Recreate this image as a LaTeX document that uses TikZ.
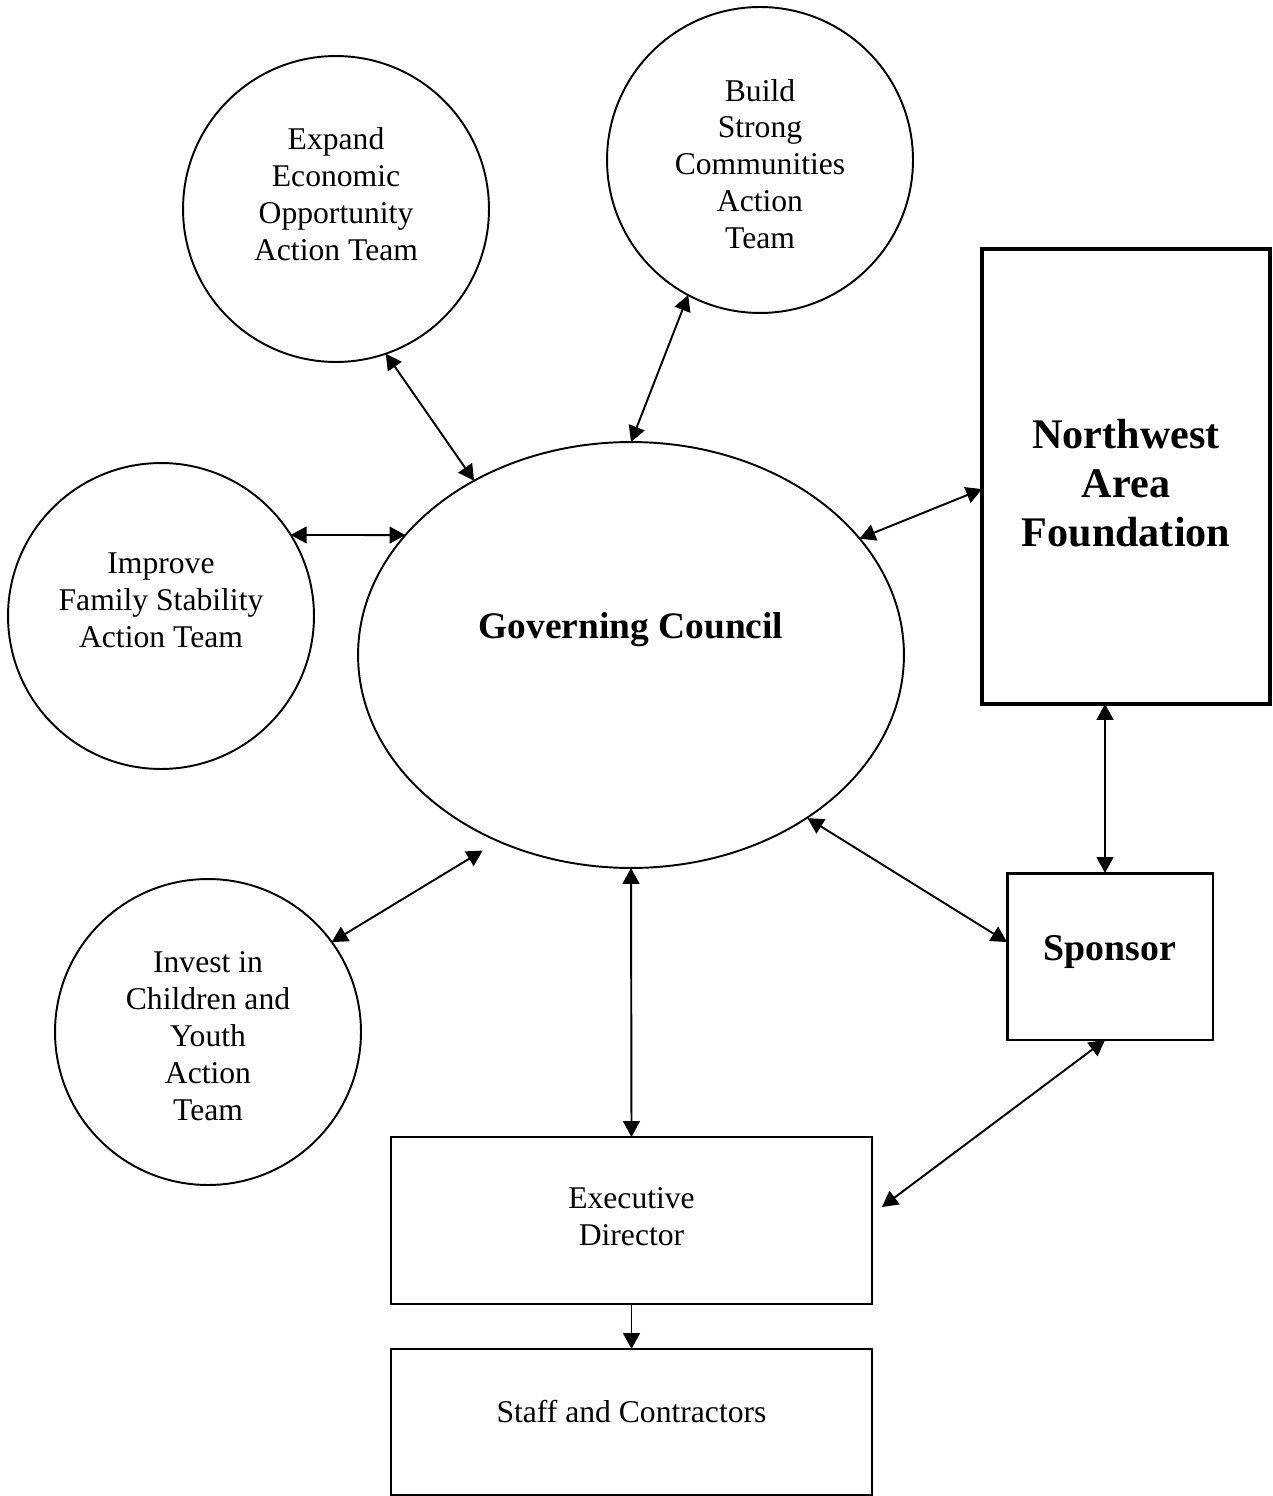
\documentclass[tikz,border=0pt]{standalone}
\usepackage{fontspec}
\setmainfont{Liberation Serif}
\usetikzlibrary{arrows.meta,shapes.geometric}
\begin{document}
\begin{tikzpicture}[x=0.02cm,y=-0.02cm,
  team/.style={circle,draw,line width=1.1pt,minimum size=6.12cm,inner sep=0pt,outer sep=0pt},
  lbl/.style={align=center,font=\fontsize{18}{21}\selectfont,inner sep=0pt},
  tip/.tip={Triangle[length=9pt,width=9.5pt]},
  arr/.style={tip-tip,line width=1.1pt},
  arrone/.style={-tip,line width=1.1pt},
  box/.style={rectangle,draw,inner sep=0pt,outer sep=0pt}]
\useasboundingbox (0,0) rectangle (1272,1496);

% action team circles
\node[team] (eeo) at (336,209) {};
\node[team] (bsc) at (760,160) {};
\node[team] (ifs) at (161,616) {};
\node[team] (icy) at (208,1032) {};
\node[lbl] (teeo) at (336,194) {Expand\\Economic\\Opportunity\\Action Team};
\node[lbl] (tbsc) at (760,164) {Build\\Strong\\Communities\\Action\\Team};
\node[lbl] (tifs) at (161,600) {Improve\\Family Stability\\Action Team};
\node[lbl] (ticy) at (208,1036) {Invest in\\Children and\\Youth\\Action\\Team};

% governing council
\node[ellipse,draw,line width=1.1pt,minimum width=10.92cm,minimum height=8.52cm,inner sep=0pt,outer sep=0pt] (gc) at (631,655) {};
\node[inner sep=0pt,font=\fontsize{21.3}{25}\selectfont\bfseries] (tgc) at (631,630) {Governing Council};

% boxes
\node[box,line width=2.4pt,minimum width=5.76cm,minimum height=9.1cm] (nwaf) at (1126,476.5) {};
\node[inner sep=0pt,align=center,font=\fontsize{24}{27.8}\selectfont\bfseries] (tnwaf) at (1126,483) {Northwest\\Area\\Foundation};
\node[box,line width=1.7pt,minimum width=4.12cm,minimum height=3.34cm] (spn) at (1110,956.5) {};
\node[inner sep=0pt,font=\fontsize{21.5}{25}\selectfont\bfseries] (tspn) at (1110,952) {Sponsor};
\node[box,line width=1.2pt,minimum width=9.62cm,minimum height=3.34cm] (ed) at (631.5,1220.5) {};
\node[lbl] (ted) at (631.5,1217) {Executive\\Director};
\node[box,line width=1.2pt,minimum width=9.62cm,minimum height=2.92cm] (stf) at (631.5,1422) {};
\node[lbl] (tstf) at (631.5,1412) {Staff and Contractors};

% connectors
\draw[arr] (eeo.-71) -- (gc.132);
\draw[arr] (bsc.-118) -- (gc.90);
\draw[arr] (ifs.32) -- (gc.152);
\draw[arr] (icy.36) -- ([shift={(-0.2cm,-0.24cm)}]gc.-127);
\draw[arr] (gc.27.5) -- (nwaf.185);
\draw[arr] ([xshift=-0.1cm]nwaf.south -| spn.north) -- ([xshift=-0.1cm]spn.north);
\draw[arr] ([shift={(0.1cm,0.05cm)}]gc.-44) -- (spn.172);
\draw[arr] (gc.south) -- (ed.north);
\draw[arr] ([xshift=-0.1cm]spn.south) -- ([shift={(0.2cm,0.27cm)}]ed.east);
\draw[arrone] (ed.south) -- (stf.north);
\end{tikzpicture}
\end{document}
